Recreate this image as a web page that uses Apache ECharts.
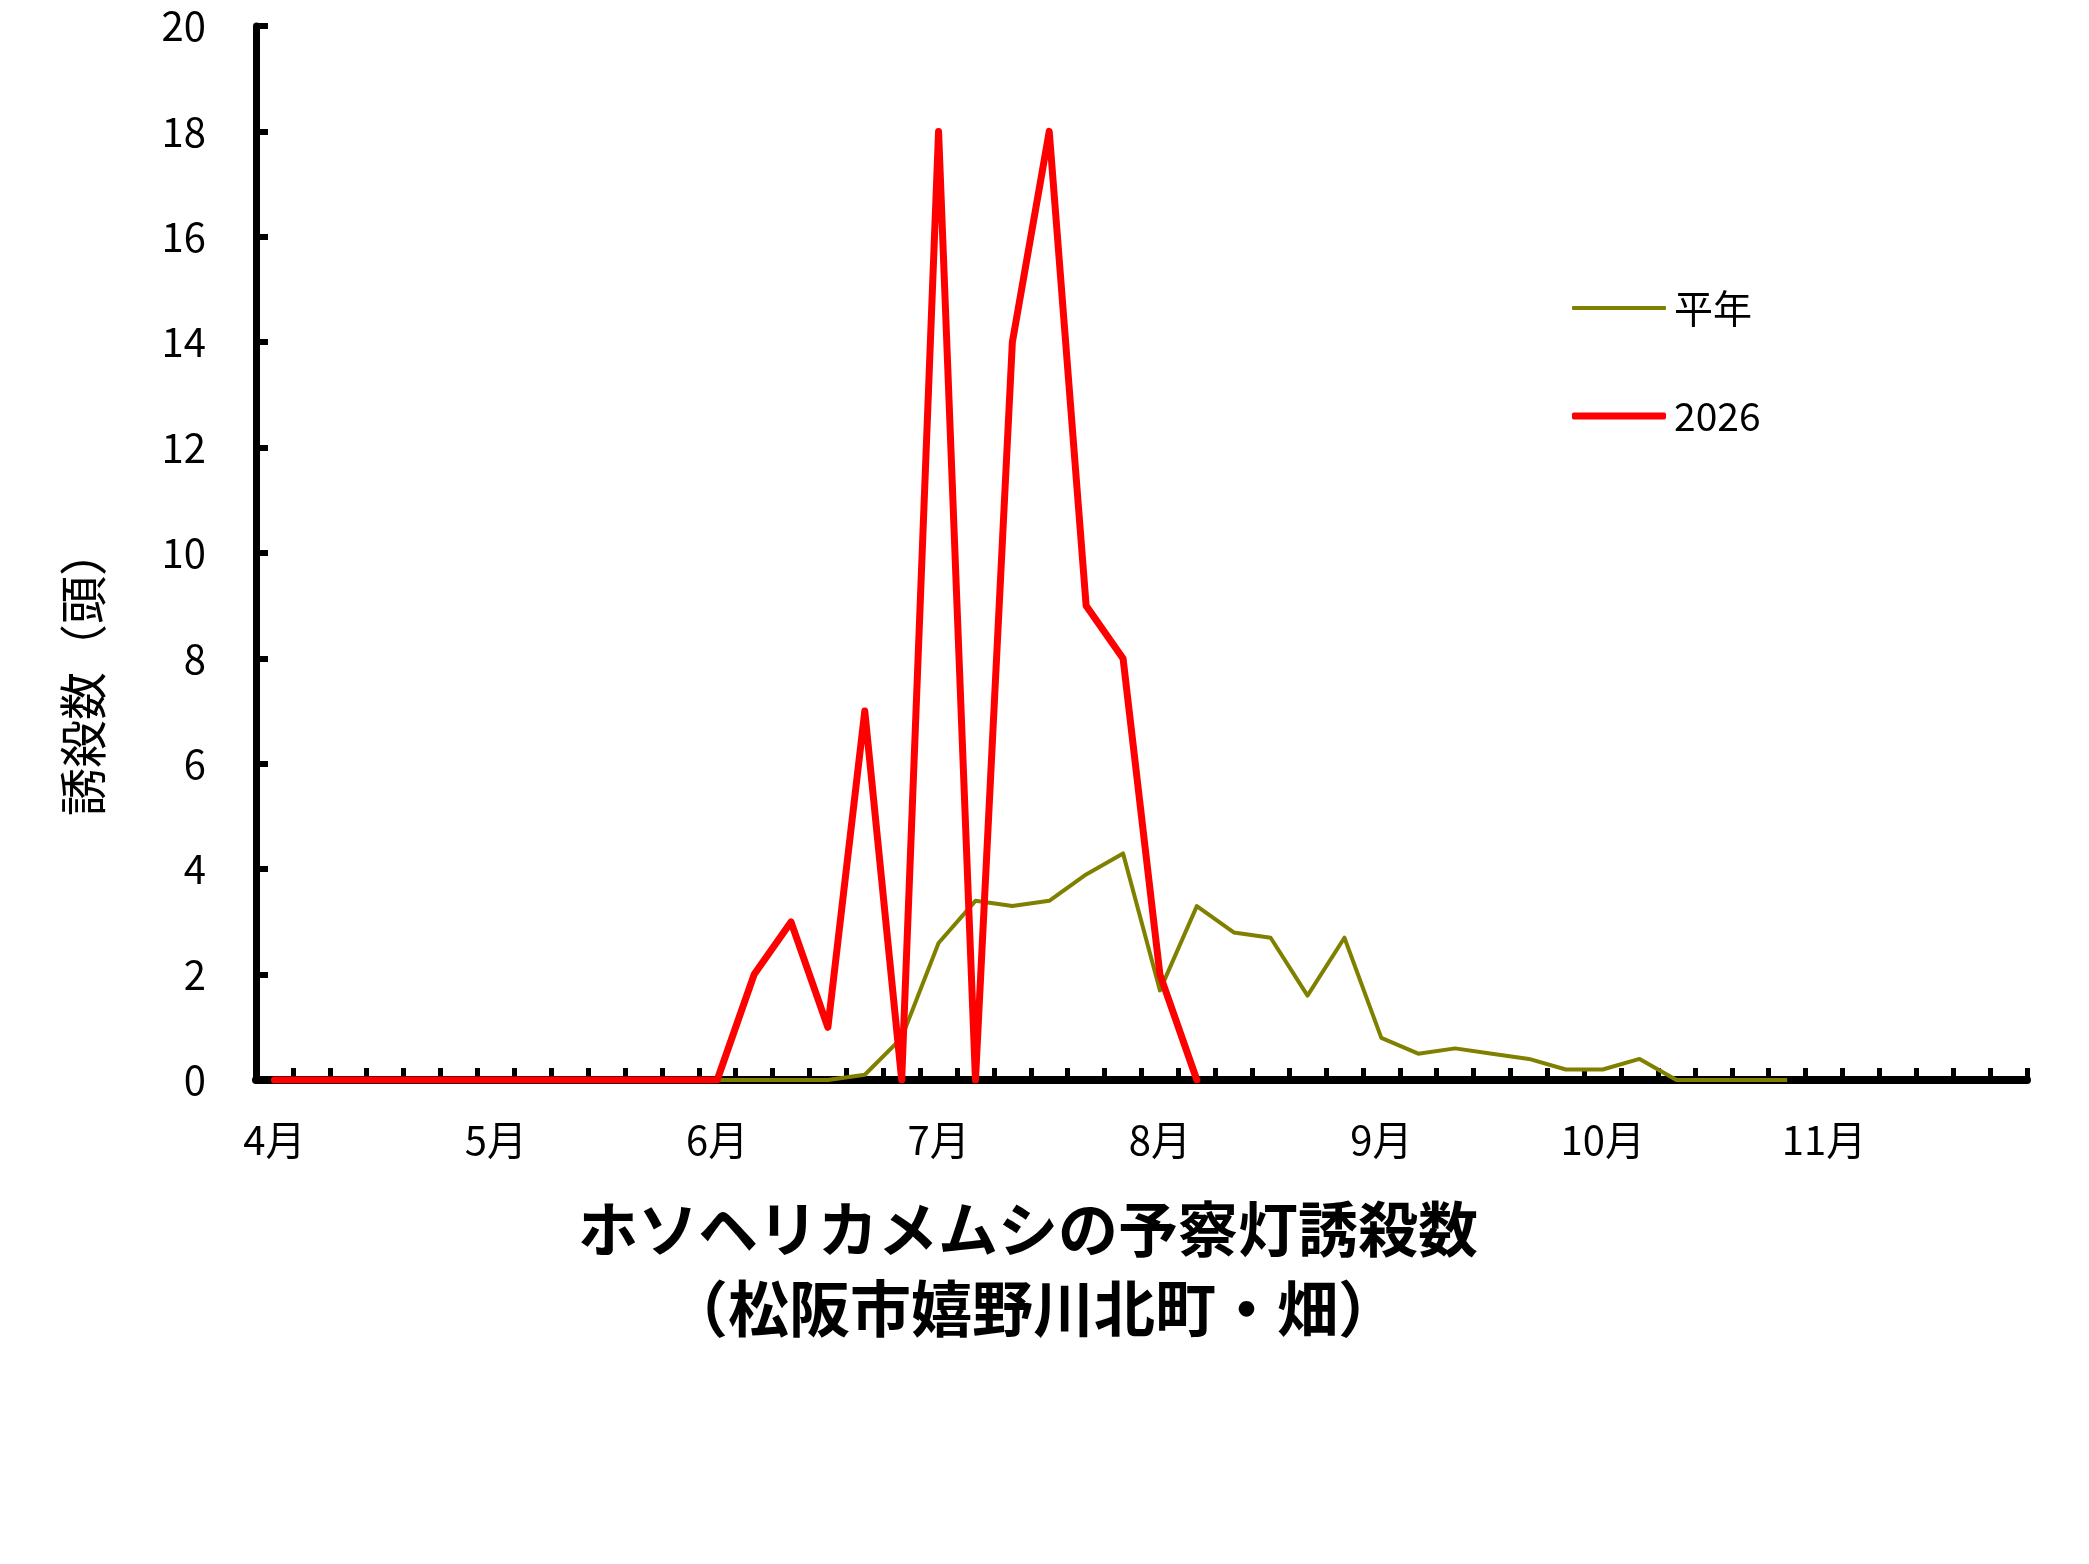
<!DOCTYPE html>
<html>
<head>
<meta charset="utf-8">
<script src="https://cdn.jsdelivr.net/npm/echarts@6/dist/echarts.min.js"></script>
<style>
html,body{margin:0;padding:0;background:#fff;}
#chart{width:2089px;height:1564px;}
</style>
</head>
<body>
<div id="chart"></div>
<script>
// Months shown on the x axis (each month split into 6 half-decade periods)
const months = ['4月','5月','6月','7月','8月','9月','10月','11月'];
const periodsPerMonth = 6;
const periodNames = ['1','2','3','4','5','6'];

// Normal year (平年) values, periods from April 1st period onward
const heinenValues = [
  null,null,null,null,null,null,   // 4月
  null,null,null,null,null,null,   // 5月
  0,0,0,0,0.1,0.8,                 // 6月
  2.6,3.4,3.3,3.4,3.9,4.3,         // 7月
  1.7,3.3,2.8,2.7,1.6,2.7,         // 8月
  0.8,0.5,0.6,0.5,0.4,0.2,         // 9月
  0.2,0.4,0,0,0,0,                 // 10月
  null,null,null,null,null,null    // 11月
];

// 2026 values
const year2026Values = [
  0,0,0,0,0,0,                     // 4月
  0,0,0,0,0,0,                     // 5月
  0,2,3,1,7,0,                     // 6月
  18,0,14,18,9,8,                  // 7月
  2,0,null,null,null,null,         // 8月
  null,null,null,null,null,null,   // 9月
  null,null,null,null,null,null,   // 10月
  null,null,null,null,null,null    // 11月
];

const yTicks = {min: 0, max: 20, interval: 2};
const seriesNames = ['平年', '2026'];
const yAxisTitle = '誘殺数（頭）';
const titleLine1 = 'ホソヘリカメムシの予察灯誘殺数';
const titleLine2 = '（松阪市嬉野川北町・畑）';

const categories = [];
months.forEach(m => periodNames.forEach(p => categories.push(m + '|' + p)));

const FONT = '"Noto Sans CJK JP", "Noto Sans", sans-serif';
const OLIVE = '#808000';
const RED = '#ff0000';

function legendFor(name, top, thickness) {
  return {
    orient: 'vertical',
    left: 1567,
    top: top,
    icon: 'roundRect',
    itemWidth: 94,
    itemHeight: thickness,
    textStyle: {fontFamily: FONT, fontSize: 39, color: '#000', lineHeight: 44, padding: [0, 0, 0, 3]},
    data: [name]
  };
}

const chart = echarts.init(document.getElementById('chart'), null, {renderer: 'canvas'});
chart.setOption({
  backgroundColor: '#ffffff',
  animation: false,
  textStyle: {fontFamily: FONT},
  grid: {left: 256, top: 26, right: 62, bottom: 484, containLabel: false},
  legend: [
    legendFor(seriesNames[0], 281, 4),
    legendFor(seriesNames[1], 389, 7)
  ],
  xAxis: {
    type: 'category',
    data: categories,
    boundaryGap: true,
    axisLine: {show: true, lineStyle: {color: '#000', width: 8}},
    axisTick: {show: true, inside: true, interval: 0, length: 12, lineStyle: {color: '#000', width: 5}},
    axisLabel: {
      show: true,
      interval: periodsPerMonth - 1,
      margin: 40,
      fontFamily: FONT,
      fontSize: 40,
      color: '#000',
      formatter: v => v.split('|')[0]
    },
    splitLine: {show: false}
  },
  yAxis: {
    type: 'value',
    min: yTicks.min,
    max: yTicks.max,
    interval: yTicks.interval,
    axisLine: {show: true, lineStyle: {color: '#000', width: 7}},
    axisTick: {show: true, inside: true, length: 12, lineStyle: {color: '#000', width: 6}},
    axisLabel: {margin: 50, fontFamily: FONT, fontSize: 40, color: '#000'},
    splitLine: {show: false}
  },
  series: [
    {
      name: seriesNames[0],
      type: 'line',
      data: heinenValues,
      symbol: 'none',
      lineStyle: {color: OLIVE, width: 4, join: 'round'},
      itemStyle: {color: OLIVE},
      z: 2
    },
    {
      name: seriesNames[1],
      type: 'line',
      data: year2026Values,
      symbol: 'none',
      lineStyle: {color: RED, width: 7, cap: 'round', join: 'round'},
      itemStyle: {color: RED},
      z: 3
    }
  ],
  graphic: [
    {
      type: 'text',
      x: 83, y: 672,
      rotation: Math.PI / 2,
      style: {text: yAxisTitle, font: '48px ' + FONT, fill: '#000', align: 'center', verticalAlign: 'middle'}
    },
    {
      type: 'text',
      x: 1028, y: 1229,
      style: {text: titleLine1, font: 'bold 60px ' + FONT, fill: '#000', align: 'center', verticalAlign: 'middle'}
    },
    {
      type: 'text',
      x: 1033, y: 1309,
      style: {text: titleLine2, font: 'bold 61px ' + FONT, fill: '#000', align: 'center', verticalAlign: 'middle'}
    }
  ]
});
</script>
</body>
</html>
